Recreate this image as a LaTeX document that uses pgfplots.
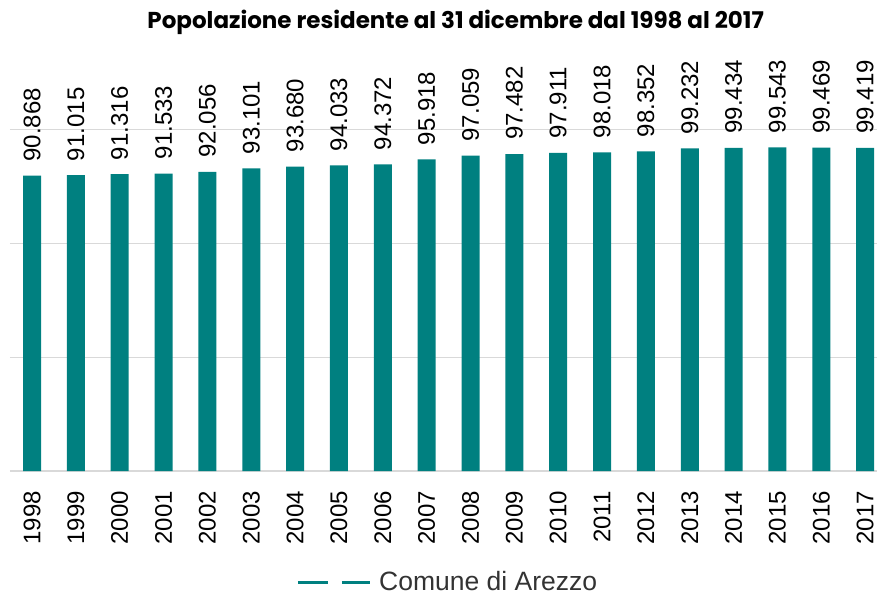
\documentclass[border=0pt]{standalone}
\usepackage{pgfplots}
\pgfplotsset{compat=1.18}
\usepackage{fontspec}
\setmainfont{Liberation Sans}
\newfontfamily\titlefont{Poppins}
\definecolor{barteal}{RGB}{0,128,128}
\definecolor{gridgray}{RGB}{217,217,217}
\pgfplotstableread{
x y
0 90868
1 91015
2 91316
3 91533
4 92056
5 93101
6 93680
7 94033
8 94372
9 95918
10 97059
11 97482
12 97911
13 98018
14 98352
15 99232
16 99434
17 99543
18 99469
19 99419
}\datatable
\begin{document}
\begin{tikzpicture}
\useasboundingbox (0,0) rectangle (877pt,595pt);
\begin{axis}[
  at={(10pt,124pt)}, anchor=south west,
  scale only axis, width=867pt, height=455pt,
  xmin=-0.502, xmax=19.27, ymin=0, ymax=140000,
  ybar, bar width=18pt, bar shift=0pt,
  axis line style={draw=none},
  major tick length=0pt,
  ymajorgrids,
  major grid style={gridgray, line width=1.5pt},
  ytick={0,35000,70000,105000},
  yticklabels={},
  scaled y ticks=false,
  xtick={0,...,19},
  xticklabels={1998,1999,2000,2001,2002,2003,2004,2005,2006,2007,2008,2009,2010,2011,2012,2013,2014,2015,2016,2017},
  xticklabel style={rotate=90, anchor=east, inner sep=0pt, font=\fontsize{24}{24}\selectfont},
  xticklabel shift=20pt,
  /pgf/number format/assume math mode=true,
  nodes near coords={\pgfmathprintnumber[1000 sep={.}, assume math mode=true]{\pgfplotspointmeta}},
  every node near coord/.append style={rotate=90, anchor=west, inner xsep=14pt, inner ysep=0pt, font=\fontsize{24}{24}\selectfont, text=black},
  title={\titlefont\bfseries Popolazione residente al 31 dicembre dal 1998 al 2017},
  title style={at={(0.514,0.972)}, anchor=center, font=\fontsize{23}{23}\selectfont},
  legend style={at={(0.505,-0.244)}, anchor=center, draw=none, fill=none, font=\fontsize{26.5}{26.5}\selectfont, text=black!80},
  legend image code/.code={\draw[barteal, line width=3pt, dash pattern=on 30pt off 14pt] (0pt,0pt) -- (72pt,0pt); \path (79pt,0pt);},
]
\addplot[fill=barteal, draw=none, forget plot] table[x=x, y=y] {\datatable};
\addlegendimage{barteal}
\addlegendentry{Comune di Arezzo}
\end{axis}
\end{tikzpicture}
\end{document}
